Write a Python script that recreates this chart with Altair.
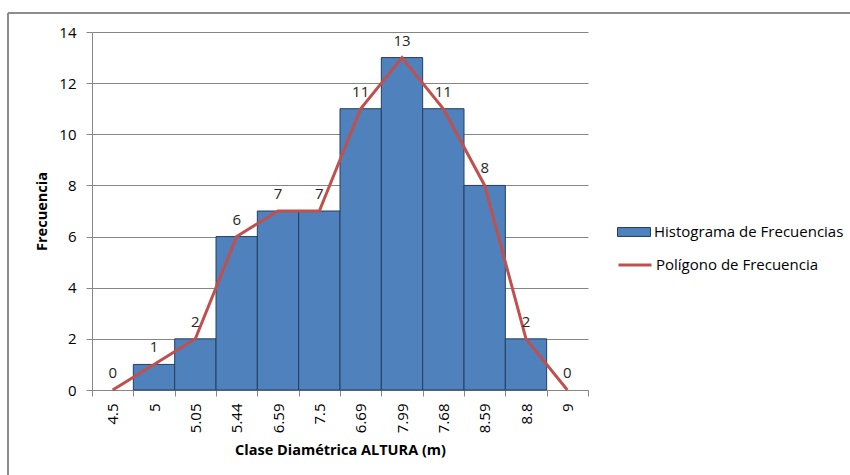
import altair as alt
import pandas as pd

# Frequency table: height classes and their counts
clases = ["4.5", "5", "5.05", "5.44", "6.59", "7.5", "6.69", "7.99", "7.68", "8.59", "8.8", "9"]
frecuencias = [0, 1, 2, 6, 7, 7, 11, 13, 11, 8, 2, 0]
series = ["Histograma de Frecuencias", "Polígono de Frecuencia"]
y_ticks = [0, 2, 4, 6, 8, 10, 12, 14]

FONT = "Open Sans"
W, H = 496, 358          # plot area
LEFT, TOP = 92, 32       # plot area offset inside the canvas
CANVAS_W, CANVAS_H = 850, 475
GRID = "#868686"
BAR_FILL = "#4f81bd"
BAR_EDGE = "#243f60"
LINE_RED = "#c0504d"

df = pd.DataFrame({"clase": clases, "frecuencia": frecuencias})
df["histograma"] = series[0]
df["poligono"] = series[1]

x_scale = alt.Scale(domain=clases, paddingInner=0, paddingOuter=0)

x_enc = alt.X(
    "clase:N",
    sort=None,
    scale=x_scale,
    axis=alt.Axis(
        title="Clase Diamétrica ALTURA (m)",
        titleFont=FONT, titleFontSize=14.5, titleFontWeight="bold", titleColor="#000000",
        titleX=W / 2, titleY=60, titleAlign="center", titleBaseline="middle",
        labelAngle=-90, labelAlign="right", labelBaseline="middle",
        labelFont=FONT, labelFontSize=15, labelColor="#000000", labelPadding=7,
        tickBand="extent", tickSize=6, tickColor=GRID, domainColor=GRID,
        grid=False,
    ),
)
y_enc = alt.Y(
    "frecuencia:Q",
    scale=alt.Scale(domain=[0, 14], nice=False),
    axis=alt.Axis(
        values=y_ticks,
        title="Frecuencia",
        titleFont=FONT, titleFontSize=14.5, titleFontWeight="bold", titleColor="#000000",
        titleX=-50, titleY=H / 2, titleAngle=-90, titleAlign="center", titleBaseline="middle",
        labelFont=FONT, labelFontSize=15, labelColor="#000000", labelPadding=10,
        tickSize=6, tickColor=GRID, domainColor=GRID,
        grid=True, gridColor=GRID, gridWidth=1,
    ),
)

base = alt.Chart(df)

bars = base.transform_filter(alt.datum.frecuencia > 0).mark_bar(
    stroke=BAR_EDGE, strokeWidth=1
).encode(
    x=x_enc,
    y=y_enc,
    fill=alt.Fill(
        "histograma:N",
        scale=alt.Scale(domain=[series[0]], range=[BAR_FILL]),
        legend=alt.Legend(
            title=None, orient="none", legendX=525, legendY=183, padding=0,
            symbolType="M-1,-0.27H1V0.27H-1Z", symbolSize=1089,
            symbolStrokeColor=BAR_EDGE, symbolStrokeWidth=1, symbolOpacity=1,
            labelFont=FONT, labelFontSize=15, labelColor="#000000", labelOffset=3,
            labelLimit=400,
        ),
    ),
)

poligono = base.mark_line(strokeWidth=3).encode(
    x=alt.X("clase:N", sort=None, scale=x_scale),
    y="frecuencia:Q",
    stroke=alt.Stroke(
        "poligono:N",
        scale=alt.Scale(domain=[series[1]], range=[LINE_RED]),
        legend=alt.Legend(
            title=None, orient="none", legendX=525, legendY=215, padding=0,
            symbolType="stroke", symbolSize=1089, symbolStrokeWidth=3,
            labelFont=FONT, labelFontSize=15, labelColor="#000000", labelOffset=3,
            labelLimit=400,
        ),
    ),
)

etiquetas = base.mark_text(dy=-17, font=FONT, fontSize=15, color="#262626").encode(
    x=alt.X("clase:N", sort=None, scale=x_scale),
    y="frecuencia:Q",
    text="frecuencia:Q",
)

# Outer frame of the chart area (left and top edges)
frame_left = alt.Chart(alt.Data(values=[{}])).mark_rule(color="#8c8c8c", strokeWidth=2).encode(
    x=alt.value(8 - LEFT), y=alt.value(13 - TOP), y2=alt.value(CANVAS_H - TOP)
)
frame_top = alt.Chart(alt.Data(values=[{}])).mark_rule(color="#8c8c8c", strokeWidth=2).encode(
    x=alt.value(8 - LEFT), x2=alt.value(CANVAS_W - LEFT), y=alt.value(13 - TOP)
)

chart = alt.layer(bars, poligono, etiquetas, frame_left, frame_top).properties(
    width=W,
    height=H,
    autosize=alt.AutoSizeParams(type="none"),
    padding={"left": LEFT, "top": TOP, "right": CANVAS_W - LEFT - W, "bottom": CANVAS_H - TOP - H},
    background="#ffffff",
).configure_view(stroke=None)

chart.save("out.html", embed_options={"renderer": "svg", "actions": False})
